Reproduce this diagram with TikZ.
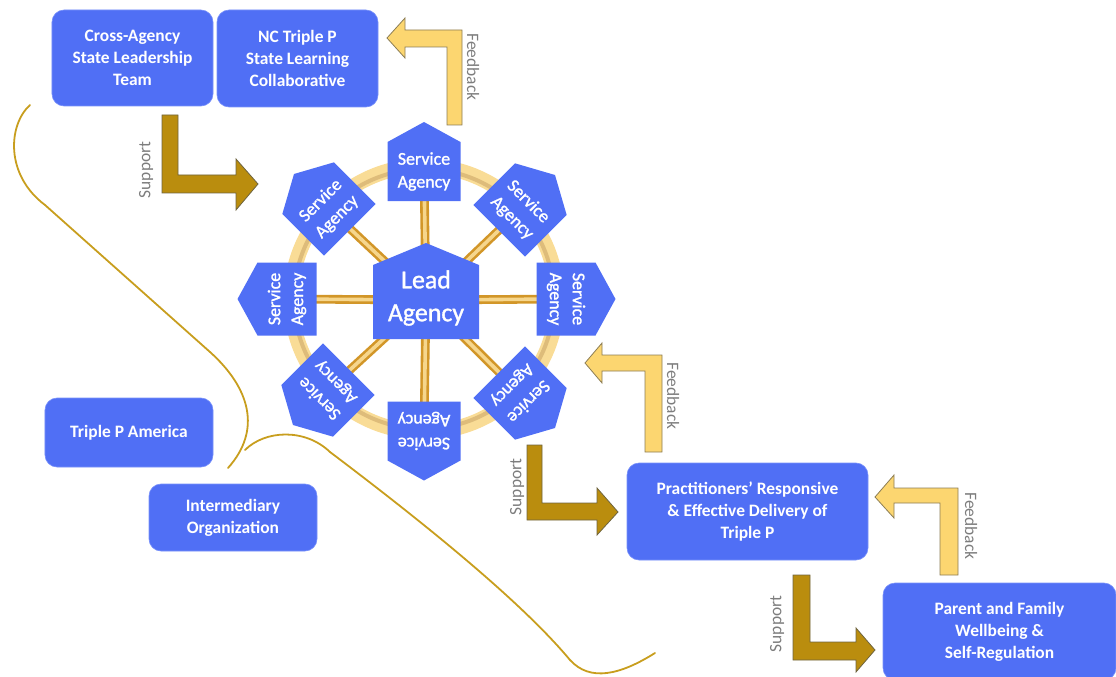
\documentclass[tikz,border=0pt]{standalone}
\usepackage{fontspec}
\setmainfont{Carlito}
\newfontfamily\semifont[FakeBold=1.3]{Carlito}
\definecolor{boxblue}{RGB}{80,111,245}
\definecolor{boxedge}{RGB}{120,145,250}
\definecolor{supfill}{RGB}{186,141,14}
\definecolor{supedge}{RGB}{110,100,64}
\definecolor{fdbfill}{RGB}{252,214,112}
\definecolor{fdbedge}{RGB}{140,125,85}
\definecolor{labelgrey}{RGB}{125,125,125}
\definecolor{spokedark}{RGB}{210,150,40}
\definecolor{spokelight}{RGB}{246,214,140}
\definecolor{ringlight}{RGB}{249,220,150}
\definecolor{ringtan}{RGB}{222,188,122}
\definecolor{curvegold}{RGB}{200,158,30}
\newcommand\myagency[4]{%
  \begin{scope}[shift={(#2,#3)}, rotate=#4]
    \fill[boxblue] (-36.5,29.5) -- (-36.5,-29.5) -- (0,-49.5) -- (36.5,-29.5) -- (36.5,29.5) -- cycle;
    \node[agtext, rotate=#4] (#1) at (0,0) {Service\\Agency};
  \end{scope}}
\begin{document}
\begin{tikzpicture}[x=1bp,y=-1bp,
  box/.style={draw=boxedge, fill=boxblue, rounded corners=12bp, line width=0.6bp, inner sep=0pt,
    text=white, font=\fontsize{17.5}{22}\selectfont\bfseries, align=center},
  lbl/.style={text=labelgrey, font=\fontsize{17.5}{20}\selectfont, inner sep=0pt},
  sup/.style={fill=supfill, draw=supedge, line width=0.8bp},
  fdb/.style={fill=fdbfill, draw=fdbedge, line width=0.8bp},
  spoke/.style={draw=spokedark, line width=2.6bp, double=spokelight, double distance=3.6bp},
  agtext/.style={text=white, font=\semifont\fontsize{18}{23}\selectfont, align=center, inner sep=0pt},
  brace/.style={draw=curvegold, line width=1.8bp, line cap=round}]
\useasboundingbox (0,0) rectangle (1116,677);

% hub and agency positions
\coordinate (hub) at (426,300);
\coordinate (pn) at (424,171.5);
\coordinate (ps) at (424,431);
\coordinate (pw) at (287,299);
\coordinate (pe) at (566,299);
\coordinate (pnw) at (329,209);
\coordinate (pne) at (520,210);
\coordinate (psw) at (328,390);
\coordinate (pse) at (520,393);

% ring
\draw[ringlight, line width=15bp] (424,299) circle[radius=133];
\draw[ringtan, line width=4bp] (424,299) circle[radius=130];

% spokes
\foreach \p in {pn,ps,pw,pe,pnw,pne,psw,pse} \draw[spoke] (hub) -- (\p);

% service agencies
\myagency{agn}{424}{171.5}{0}
\myagency{ags}{424}{431}{180}
\myagency{agw}{287}{299}{90}
\myagency{age}{566}{299}{-90}
\myagency{agnw}{329}{209}{45}
\myagency{agne}{520}{210}{-45}
\myagency{agsw}{328}{390}{135}
\myagency{agse}{520}{393}{-135}

% lead agency
\fill[boxblue] (373,339) -- (373,265) -- (426,243) -- (479,265) -- (479,339) -- cycle;
\node[text=white, font=\semifont\fontsize{26}{33}\selectfont, align=center, inner sep=0pt] (lead) at (426,298) {Lead\\Agency};

% boxes
\node[box, minimum width=161bp, minimum height=96bp] (cross) at (132.5,58) {Cross-Agency\\State Leadership\\Team};
\node[box, minimum width=161bp, minimum height=97bp] (nc) at (297.5,58.5) {NC Triple P\\State Learning\\Collaborative};
\node[box, minimum width=168bp, minimum height=69bp] (tpa) at (129,432.5) {Triple P America};
\node[box, minimum width=168bp, minimum height=67bp] (inter) at (233,517.5) {Intermediary\\Organization};
\node[box, minimum width=241bp, minimum height=97bp] (prac) at (747.5,511.5) {Practitioners' Responsive\\\& Effective Delivery of\\Triple P};
\node[box, minimum width=233bp, minimum height=97bp] (parent) at (999.5,631.5) {Parent and Family\\Wellbeing \&\\Self-Regulation};

% block arrows
\draw[fdb] (462,125) -- (462,30) -- (405,30) -- (405,18) -- (387,38) -- (405,58) -- (405,47) -- (447,47) -- (447,125) -- cycle;
\draw[sup] (162,115) -- (178,115) -- (178,175) -- (236,175) -- (236,159) -- (258,184) -- (236,210) -- (236,193) -- (162,193) -- cycle;
\draw[fdb] (662,452) -- (662,355) -- (602,355) -- (602,343) -- (585,363) -- (602,383) -- (602,371) -- (645,371) -- (645,452) -- cycle;
\draw[sup] (527,445) -- (542,445) -- (542,503) -- (597,503) -- (597,488) -- (618,512) -- (597,535) -- (597,520) -- (527,520) -- cycle;
\draw[fdb] (958,575) -- (958,488) -- (894,488) -- (894,475) -- (875,497) -- (894,518) -- (894,503) -- (940,503) -- (940,575) -- cycle;
\draw[sup] (793,575) -- (810,575) -- (810,642) -- (856,642) -- (856,628) -- (875,650) -- (856,672) -- (856,660) -- (793,660) -- cycle;

% labels
\node[lbl, rotate=-90] (fb1) at (473,67) {Feedback};
\node[lbl, rotate=90] (su1) at (146,170) {Support};
\node[lbl, rotate=-90] (fb2) at (673,396) {Feedback};
\node[lbl, rotate=90] (su2) at (517,487) {Support};
\node[lbl, rotate=-90] (fb3) at (971,526) {Feedback};
\node[lbl, rotate=90] (su3) at (777,624) {Support};

% brace curves
\draw[brace] (30,105) .. controls (8,125) and (5,175) .. (45,205) -- (210,352) .. controls (250,388) and (262,430) .. (228,468);
\draw[brace] (245,450) .. controls (265,430) and (305,428) .. (330,452) .. controls (420,520) and (520,600) .. (570,660) .. controls (590,682) and (620,675) .. (655,653);
\end{tikzpicture}
\end{document}
